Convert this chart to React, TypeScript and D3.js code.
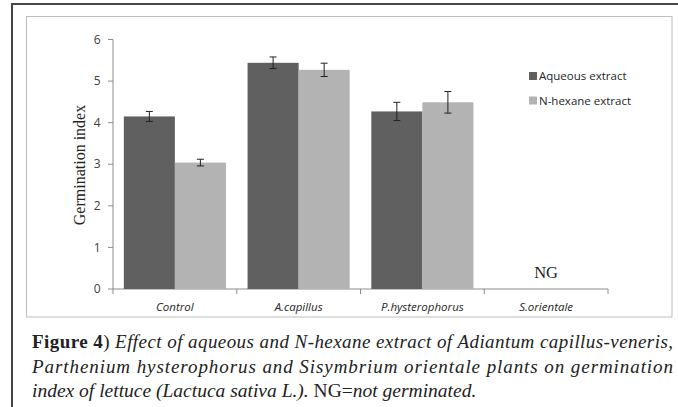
import React from 'react'
import * as d3 from 'd3'

const categories = ['Control', 'A.capillus', 'P.hysterophorus', 'S.orientale']
const seriesNames = ['Aqueous extract', 'N-hexane extract']
const aqueous = [4.15, 5.44, 4.27, 0]
const aqueousErr = [0.12, 0.14, 0.22, 0]
const hexane = [3.04, 5.27, 4.49, 0]
const hexaneErr = [0.08, 0.16, 0.26, 0]
const yTicks = [0, 1, 2, 3, 4, 5, 6]
const germinated = [true, true, true, false]

const W = 678
const H = 407
const colors = ['#606060', '#b3b3b3']

const x0 = d3.scaleBand().domain(categories).range([113, 608]).paddingInner(0).paddingOuter(0)
const x1 = d3.scaleBand().domain(seriesNames).range([0, x0.bandwidth()]).paddingInner(0).paddingOuter(0.212)
const y = d3.scaleLinear().domain([0, 6]).range([289, 39.5])

const sans = '"Open Sans", "Noto Sans", sans-serif'
const serif = '"Liberation Serif", "DejaVu Serif", serif'

const App = () => {
  const series = [
    { name: seriesNames[0], values: aqueous, err: aqueousErr, color: colors[0] },
    { name: seriesNames[1], values: hexane, err: hexaneErr, color: colors[1] },
  ]
  const boundaries = categories.map(c => x0(c) as number).concat([x0.range()[1]])

  return (
    <svg width={W} height={H} style={{ position: 'absolute', left: 0, top: 0, background: '#fff' }}>
      {/* frames */}
      <rect x={12} y={4} width={W} height={H} fill="none" stroke="#333" strokeWidth={1.8} />
      <rect x={26.5} y={16.5} width={645.5} height={300.5} fill="none" stroke="#bdbdbd" strokeWidth={1} />

      {/* y axis */}
      <line x1={113} x2={113} y1={y(6)} y2={y(0)} stroke="#8c8c8c" />
      {yTicks.map(t => (
        <g key={t}>
          <line x1={108} x2={113} y1={y(t)} y2={y(t)} stroke="#8c8c8c" />
          <text x={100.5} y={y(t)} dy="0.35em" textAnchor="end" fontFamily={sans} fontSize={12} fill="#404040">
            {t}
          </text>
        </g>
      ))}

      {/* x axis */}
      <line x1={113} x2={608} y1={y(0)} y2={y(0)} stroke="#8c8c8c" />
      {boundaries.map((b, i) => (
        <line key={i} x1={b} x2={b} y1={y(0)} y2={y(0) + 5} stroke="#8c8c8c" />
      ))}
      {categories.map(c => (
        <text key={c} x={(x0(c) as number) + x0.bandwidth() / 2} y={311} textAnchor="middle"
          fontFamily={sans} fontStyle="italic" fontSize={11.5} fill="#262626">
          {c}
        </text>
      ))}

      {/* bars */}
      {series.map(s => (
        <g key={s.name}>
          {categories.map((c, i) => {
            if (!germinated[i]) return null
            const bx = (x0(c) as number) + (x1(s.name) as number)
            const cx = bx + x1.bandwidth() / 2
            return (
              <g key={c}>
                <rect x={bx} y={y(s.values[i])} width={x1.bandwidth()} height={y(0) - y(s.values[i])} fill={s.color} />
                <line x1={cx} x2={cx} y1={y(s.values[i] + s.err[i])} y2={y(s.values[i] - s.err[i])} stroke="#222" />
                <line x1={cx - 3.5} x2={cx + 3.5} y1={y(s.values[i] + s.err[i])} y2={y(s.values[i] + s.err[i])} stroke="#222" />
                <line x1={cx - 3.5} x2={cx + 3.5} y1={y(s.values[i] - s.err[i])} y2={y(s.values[i] - s.err[i])} stroke="#222" />
              </g>
            )
          })}
        </g>
      ))}
      {categories.map((c, i) => germinated[i] ? null : (
        <text key={c} x={(x0(c) as number) + x0.bandwidth() / 2} y={278} textAnchor="middle"
          fontFamily={serif} fontSize={16.5} fill="#222">
          NG
        </text>
      ))}

      {/* y title */}
      <text transform={`translate(85,165) rotate(-90)`} textAnchor="middle" fontFamily={serif} fontSize={16} fill="#222">
        Germination index
      </text>

      {/* legend */}
      {series.map((s, i) => (
        <g key={s.name} transform={`translate(529,${72 + i * 24.5})`}>
          <rect x={0} y={0} width={8} height={8} fill={s.color} />
          <text x={10} y={4} dy="0.35em" fontFamily={sans} fontSize={11.5} fill="#262626">
            {s.name}
          </text>
        </g>
      ))}

      {/* caption */}
      <text x={32} y={348} fontFamily={serif} fontSize={19} fill="#222" textLength={641} lengthAdjust="spacing">
        <tspan fontWeight="bold">Figure 4</tspan>
        <tspan>) </tspan>
        <tspan fontStyle="italic">Effect of aqueous and N-hexane extract of Adiantum capillus-veneris,</tspan>
      </text>
      <text x={32} y={372.5} fontFamily={serif} fontSize={19} fontStyle="italic" fill="#222" textLength={641} lengthAdjust="spacing">
        Parthenium hysterophorus and Sisymbrium orientale plants on germination
      </text>
      <text x={32} y={397} fontFamily={serif} fontSize={19.5} fill="#222">
        <tspan fontStyle="italic">index of lettuce (Lactuca sativa L.). </tspan>
        <tspan>NG=</tspan>
        <tspan fontStyle="italic">not germinated.</tspan>
      </text>
    </svg>
  )
}

export default App
